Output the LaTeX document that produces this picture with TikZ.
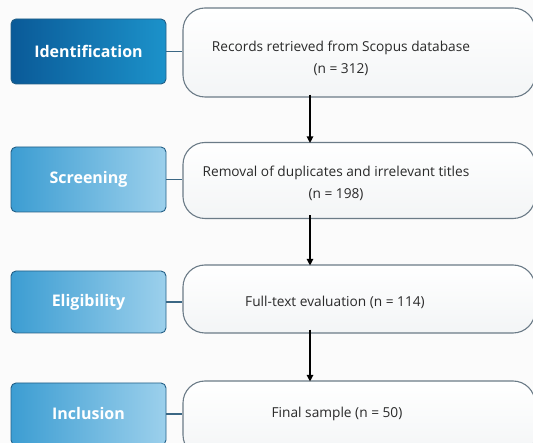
\documentclass[tikz,border=0pt]{standalone}
\usepackage{fontspec}
\setmainfont{Open Sans}
\usetikzlibrary{arrows.meta}
\definecolor{bg}{HTML}{FBFBFB}
\definecolor{lblborder}{HTML}{235F86}
\definecolor{boxborder}{HTML}{6B7B87}
\definecolor{txt}{HTML}{2A2A2A}
\definecolor{link}{HTML}{3B6784}
\definecolor{HTML0A5A98}{HTML}{0A5A98}
\definecolor{HTML1C92CA}{HTML}{1C92CA}
\definecolor{HTML3C9DD2}{HTML}{3C9DD2}
\definecolor{HTML9CD0EC}{HTML}{9CD0EC}
\definecolor{HTMLF3F5F6}{HTML}{F3F5F6}
\tikzset{
  lbl/.style={draw=lblborder, line width=0.9pt, rounded corners=5pt, minimum width=155pt,
    text=white, font=\fontsize{16}{19}\selectfont\bfseries, inner sep=0pt},
  lbldark/.style={lbl, left color=HTML0A5A98, right color=HTML1C92CA},
  lbllight/.style={lbl, left color=HTML3C9DD2, right color=HTML9CD0EC},
  stage/.style={draw=boxborder, line width=1.1pt, rounded corners=22pt, minimum width=352pt,
    top color=white, bottom color=HTMLF3F5F6, inner sep=0pt},
  stagetext/.style={text=txt, font=\fontsize{13.7}{22}\selectfont, align=center, inner sep=0pt},
  flow/.style={draw=black, line width=1.2pt, -{Triangle[length=6.5pt,width=6.5pt]}},
  link/.style={draw=link, line width=1.4pt}
}
\begin{document}
\begin{tikzpicture}[x=1pt,y=-1pt]
\useasboundingbox (0,0) rectangle (533,443);
\clip (0,0) rectangle (533,443);
\fill[bg] (0,0) rectangle (533,443);
% label boxes
\node[lbldark, minimum height=65pt] (l1) at (88.5,51.5) {Identification};
\node[lbllight, minimum height=65pt] (l2) at (88.5,179.5) {Screening};
\node[lbllight, minimum height=62pt] (l3) at (88.5,302) {Eligibility};
\node[lbllight, minimum height=62pt] (l4) at (88.5,414) {Inclusion};
% stage boxes
\node[stage, minimum height=89pt] (b1) at (359,52.5) {};
\node[stage, minimum height=76pt] (b2) at (359,180.5) {};
\node[stage, minimum height=68pt] (b3) at (359,299) {};
\node[stage, minimum height=76pt] (b4) at (359,419) {};
% texts
\node[stagetext] (t1) at (341,58) {Records retrieved from Scopus database\\(n = 312)};
\node[stagetext] (t2) at (336,183) {Removal of duplicates and irrelevant titles\\(n = 198)};
\node[stagetext] (t3) at (335,302) {Full-text evaluation (n = 114)};
\node[stagetext] (t4) at (337,414) {Final sample (n = 50)};
% horizontal links
\draw[link] (l1.east) -- (l1.east -| b1.west);
\draw[link] (l2.east) -- (l2.east -| b2.west);
\draw[link] (l3.east) -- (l3.east -| b3.west);
\draw[link] (l4.east) -- (l4.east -| b4.west);
% flow arrows
\coordinate (ax) at (310,0);
\draw[flow] ([yshift=3pt]b1.south -| ax) -- ([yshift=-1pt]b2.north -| ax);
\draw[flow] ([yshift=4pt]b2.south -| ax) -- ([yshift=-1pt]b3.north -| ax);
\draw[flow] ([yshift=4pt]b3.south -| ax) -- ([yshift=-1pt]b4.north -| ax);
\end{tikzpicture}
\end{document}
